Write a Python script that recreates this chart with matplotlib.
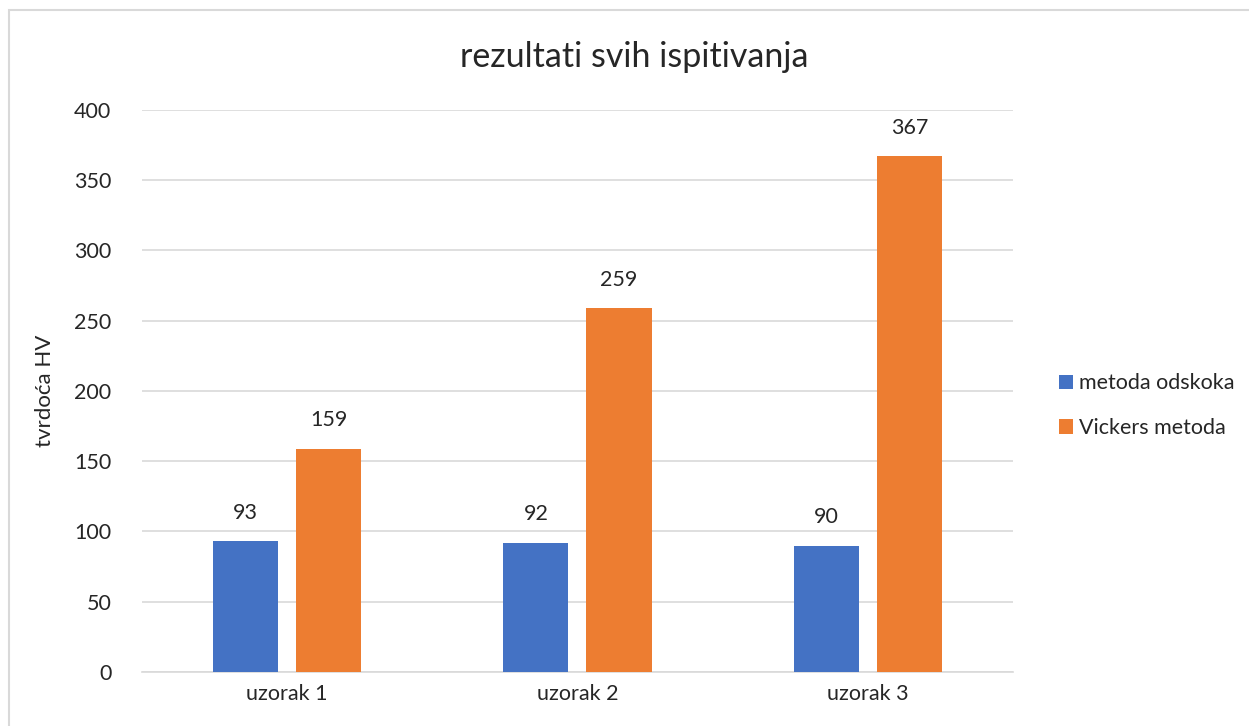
import matplotlib.pyplot as plt
import numpy as np
from matplotlib.patches import Rectangle

categories = ["uzorak 1", "uzorak 2", "uzorak 3"]
series_names = ["metoda odskoka", "Vickers metoda"]
odskok = [93, 92, 90]
vickers = [159, 259, 367]
colors = ["#4472C4", "#ED7D31"]

plt.rcParams["font.family"] = ["Lato", "DejaVu Sans"]

fig = plt.figure(figsize=(12.49, 7.26), dpi=100)
ax = fig.add_axes([0.1137, 0.0744, 0.6973, 0.8485 - 0.0744])

# outer chart frame
fig.patches.append(Rectangle((9 / 1249, -0.05), 1.1, 0.986 + 0.05, transform=fig.transFigure,
                             fill=False, edgecolor="#d9d9d9", linewidth=1.5))

x = np.arange(len(categories))
w = 0.224
off = 0.143
for vals, dx, c, name in zip([odskok, vickers], [-off, off], colors, series_names):
    bars = ax.bar(x + dx, vals, width=w, color=c, label=name, zorder=3)
    for b, v in zip(bars, vals):
        ax.text(b.get_x() + b.get_width() / 2, v + 13, str(v), ha="center", va="bottom",
                fontsize=15.5, color="#262626")

ax.set_xlim(-0.5, 2.5)
ax.set_ylim(0, 400)
ax.set_yticks(range(0, 401, 50))
ax.set_xticks(x)
ax.set_xticklabels(categories)
ax.grid(axis="y", color="#d9d9d9", linewidth=1.2, zorder=0)
for s in ["top", "right", "left"]:
    ax.spines[s].set_visible(False)
ax.spines["bottom"].set_color("#d9d9d9")
ax.spines["bottom"].set_linewidth(1.2)
ax.tick_params(length=0, labelsize=15.5, labelcolor="#262626")
ax.tick_params(axis="y", pad=22)
ax.tick_params(axis="x", pad=9)
ax.set_ylabel("tvrdoća HV", fontsize=16, color="#262626", labelpad=14)

fig.text(0.508, 0.922, "rezultati svih ispitivanja", ha="center", va="center",
         fontsize=24.5, color="#262626")

fig.legend(loc="center left", bbox_to_anchor=(0.832, 0.441), frameon=False,
           fontsize=15.5, handlelength=0.65, handleheight=0.65, handletextpad=0.3,
           labelspacing=1.15, labelcolor="#262626")

fig.savefig("out.png", dpi=100)
